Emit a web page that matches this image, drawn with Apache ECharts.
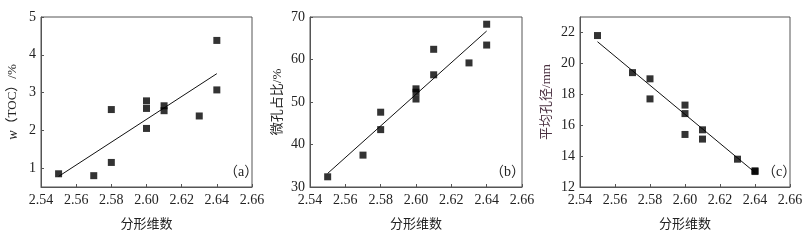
<!DOCTYPE html>
<html>
<head>
<meta charset="utf-8">
<script src="https://cdn.jsdelivr.net/npm/echarts@6/dist/echarts.min.js"></script>
<style>
  html, body { margin: 0; padding: 0; background: #fff; }
  #main { width: 810px; height: 242px; }
</style>
</head>
<body>
<div id="main"></div>
<script>
// 分形维数 (x) for each sample
var fractalDim = [2.55, 2.57, 2.58, 2.58, 2.60, 2.60, 2.60, 2.61, 2.61, 2.63, 2.64, 2.64];
// (a) w(TOC)/%
var tocValues = [0.85, 0.80, 1.15, 2.55, 2.78, 2.58, 2.05, 2.65, 2.52, 2.38, 4.38, 3.07];
// (b) 微孔占比/%
var microValues = [32.4, 37.5, 47.6, 43.5, 53.1, 52.3, 50.7, 62.4, 56.4, 59.2, 68.3, 63.4];
// (c) 平均孔径/mm
var poreValues = [21.8, 19.4, 19.0, 17.7, 17.3, 16.75, 15.4, 15.7, 15.1, 13.8, 13.05, 13.0];
// 拟合直线端点
var fitX = [2.55, 2.64];
var fitA = [0.78, 3.5];
var fitB = [33.2, 66.7];
var fitC = [21.4, 12.94];
// 刻度
var xTicks = [2.54, 2.56, 2.58, 2.60, 2.62, 2.64, 2.66];
var aTicks = [1, 2, 3, 4, 5];
var bTicks = [30, 40, 50, 60, 70];
var cTicks = [12, 14, 16, 18, 20, 22];

var serif = '"Liberation Serif", "Times New Roman", serif';
var cjk = '"Liberation Serif", "Noto Sans CJK SC", serif';
var lineColor = '#555';
var textColor = '#222';

function pairs(xs, ys) {
  return xs.map(function (x, i) { return [x, ys[i]]; });
}

function xAxisOf(idx) {
  return {
    gridIndex: idx,
    type: 'value',
    min: 2.54,
    max: 2.66,
    name: '分形维数',
    nameLocation: 'middle',
    nameGap: 31,
    nameTextStyle: { fontFamily: cjk, fontSize: 13, color: textColor },
    axisLine: { show: true, lineStyle: { color: lineColor, width: 1 } },
    axisTick: { show: true, inside: true, length: 3, customValues: xTicks, lineStyle: { color: lineColor } },
    axisLabel: {
      customValues: xTicks,
      fontFamily: serif, fontSize: 14, color: textColor, margin: 6,
      formatter: function (v) { return v.toFixed(2); }
    },
    splitLine: { show: false }
  };
}

function yAxisOf(idx, min, max, ticks, name, gap, nameColor) {
  return {
    gridIndex: idx,
    type: 'value',
    min: min,
    max: max,
    name: name,
    nameLocation: 'middle',
    nameGap: gap,
    nameTextStyle: {
      fontFamily: cjk, fontSize: 13, color: nameColor || textColor,
      rich: { i: { fontFamily: serif, fontStyle: 'italic', fontSize: 14, color: nameColor || textColor } }
    },
    axisLine: { show: true, lineStyle: { color: lineColor, width: 1 } },
    axisTick: { show: true, inside: true, length: 3, customValues: ticks, lineStyle: { color: lineColor } },
    axisLabel: { customValues: ticks, fontFamily: serif, fontSize: 14, color: textColor, margin: 5 },
    splitLine: { show: false }
  };
}

function scatterOf(idx, ys) {
  return {
    type: 'scatter',
    xAxisIndex: idx,
    yAxisIndex: idx,
    symbol: 'rect',
    symbolSize: 7,
    itemStyle: { color: '#000' },
    data: pairs(fractalDim, ys),
    z: 3
  };
}

function fitOf(idx, ys) {
  return {
    type: 'line',
    xAxisIndex: idx,
    yAxisIndex: idx,
    symbol: 'none',
    lineStyle: { color: '#111', width: 1 },
    data: pairs(fitX, ys),
    z: 2
  };
}

var gridBase = { top: 17, height: 170, show: true, borderColor: lineColor, borderWidth: 1, backgroundColor: 'transparent' };

var chart = echarts.init(document.getElementById('main'));
chart.setOption({
  animation: false,
  backgroundColor: '#fff',
  grid: [
    Object.assign({ left: 41, width: 211 }, gridBase),
    Object.assign({ left: 310, width: 212 }, gridBase),
    Object.assign({ left: 580, width: 210 }, gridBase)
  ],
  xAxis: [xAxisOf(0), xAxisOf(1), xAxisOf(2)],
  yAxis: [
    yAxisOf(0, 0.5, 5, aTicks, '{i|w}（TOC）/%', 21),
    yAxisOf(1, 30, 70, bTicks, '微孔占比/%', 26),
    yAxisOf(2, 12, 23, cTicks, '平均孔径/mm', 27, '#4a3040')
  ],
  graphic: [
    { type: 'text', left: 224, top: 165, style: { text: '（a）', font: '14px ' + cjk, fill: textColor } },
    { type: 'text', left: 490, top: 165, style: { text: '（b）', font: '14px ' + cjk, fill: textColor } },
    { type: 'text', left: 762, top: 165, style: { text: '（c）', font: '14px ' + cjk, fill: textColor } }
  ],
  series: [
    scatterOf(0, tocValues), fitOf(0, fitA),
    scatterOf(1, microValues), fitOf(1, fitB),
    scatterOf(2, poreValues), fitOf(2, fitC)
  ]
});
</script>
</body>
</html>
